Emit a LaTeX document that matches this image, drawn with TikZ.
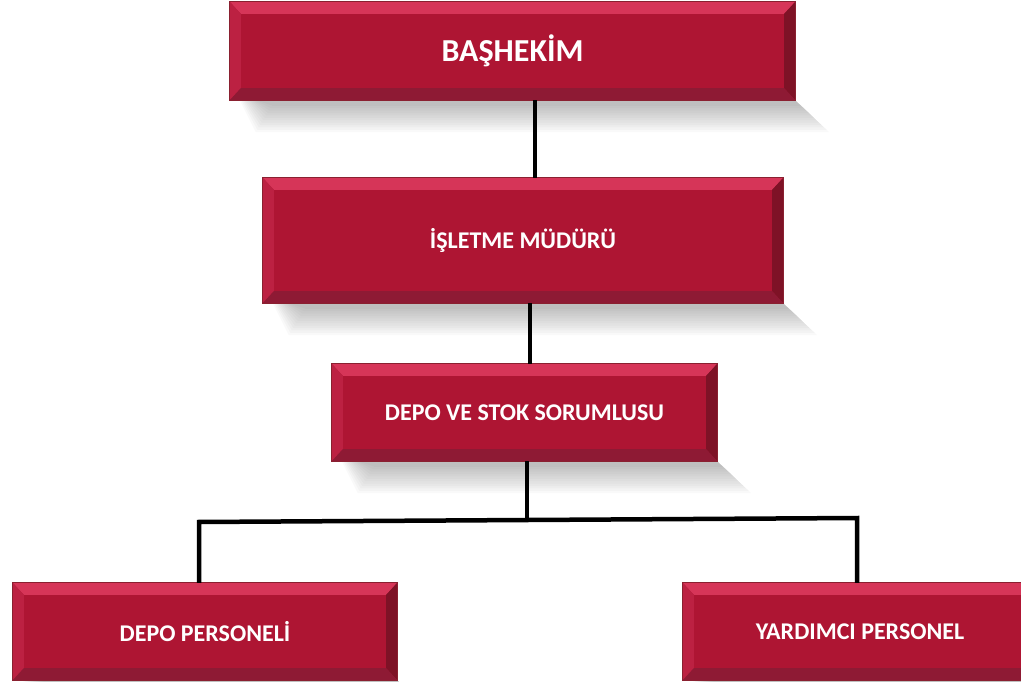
\documentclass[tikz,border=0pt]{standalone}
\usepackage{fontspec}
\setmainfont{Carlito}
\usetikzlibrary{calc,backgrounds}
\definecolor{boxmid}{HTML}{AE1533}
\definecolor{boxlight}{HTML}{D63558}
\definecolor{boxleft}{HTML}{BC2142}
\definecolor{boxdark}{HTML}{7E1226}
\definecolor{boxbottom}{HTML}{8E1A34}
\definecolor{boxedge}{HTML}{8A2030}
\tikzset{
  orgbox/.style={inner sep=0pt, text=white, font=\bfseries\fontsize{24}{28}\selectfont},
  bigbox/.style={orgbox, font=\bfseries\fontsize{32}{38}\selectfont},
  link/.style={draw=black, line width=4.5pt},
}
\newcommand{\bevelbox}[1]{%
  \foreach \k in {0,...,11}{
    \fill[black, opacity=0.022]
      ($(#1.south west)+(10pt+\k*1.5pt,0pt)$) --
      ($(#1.south east)+(0pt,0pt)$) --
      ($(#1.south east)+(34pt-\k*2.5pt,-32pt+\k*2.4pt)$) --
      ($(#1.south west)+(26pt+\k*1.5pt,-32pt+\k*2.4pt)$) -- cycle;
  }
  \fill[boxmid, draw=boxedge, line width=0.8pt] (#1.south west) rectangle (#1.north east);
  \fill[boxlight] (#1.north west) -- (#1.north east) -- ($(#1.north east)+(-11pt,-12pt)$) -- ($(#1.north west)+(11pt,-12pt)$) -- cycle;
  \fill[boxleft] (#1.north west) -- ($(#1.north west)+(11pt,-12pt)$) -- ($(#1.south west)+(11pt,12pt)$) -- (#1.south west) -- cycle;
  \fill[boxdark] (#1.north east) -- ($(#1.north east)+(-11pt,-12pt)$) -- ($(#1.south east)+(-11pt,12pt)$) -- (#1.south east) -- cycle;
  \fill[boxbottom] (#1.south west) -- ($(#1.south west)+(11pt,12pt)$) -- ($(#1.south east)+(-11pt,12pt)$) -- (#1.south east) -- cycle;
  \draw[boxedge, line width=0.8pt] (#1.south west) rectangle (#1.north east);
}
\begin{document}
\begin{tikzpicture}[x=1pt, y=-1pt]
\useasboundingbox (0,0) rectangle (1021,681);
\node[bigbox, minimum width=565pt, minimum height=98pt] (n1) at (512.5,51) {BAŞHEKİM};
\node[orgbox, minimum width=520pt, minimum height=125pt] (n2) at (523,240.5) {İŞLETME MÜDÜRÜ};
\node[orgbox, minimum width=385pt, minimum height=97pt] (n3) at (524.5,412.5) {DEPO VE STOK SORUMLUSU};
\node[orgbox, minimum width=384pt, minimum height=97pt] (n4) at (205,631.5) {DEPO PERSONELİ};
\node[orgbox, minimum width=354pt, minimum height=97pt] (n5) at (860,631.5) {YARDIMCI PERSONEL};
\begin{scope}[on background layer]
  \bevelbox{n1}\bevelbox{n2}\bevelbox{n3}\bevelbox{n4}\bevelbox{n5}
\end{scope}
\coordinate (c1) at (535,0);
\coordinate (c2) at (530,0);
\coordinate (c3) at (527,0);
\coordinate (c4) at (199,0);
\coordinate (jl) at (197,522);
\coordinate (jr) at (857,518);
\coordinate (jm) at (527,520);
\draw[link] (c1 |- n1.south) -- (c1 |- n2.north);
\draw[link] (c2 |- n2.south) -- (c2 |- n3.north);
\draw[link] (c3 |- n3.south) -- (jm);
\draw[link, line join=miter] (c4 |- n4.north) -- (c4 |- jl) -- (jl) -- (jr) -- (jr |- n5.north);
\end{tikzpicture}
\end{document}
